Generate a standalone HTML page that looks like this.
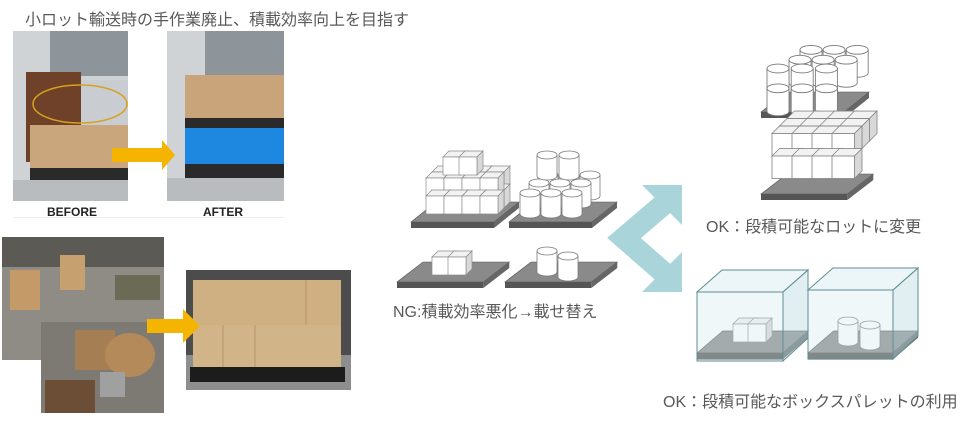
<!DOCTYPE html>
<html><head><meta charset="utf-8"><style>
html,body{margin:0;padding:0;background:#fff;}
body{width:974px;height:421px;position:relative;overflow:hidden;font-family:"Liberation Sans","Noto Sans CJK JP",sans-serif;}
.t{position:absolute;color:#595959;white-space:nowrap;}
</style></head><body>
<svg width="974" height="421" style="position:absolute;left:0;top:0">
<defs>
<g id="cube" stroke="#8a8a8a" stroke-width="0.7">
<polygon points="0,6 6,0 24,0 18,6" fill="#f2f2f2"/>
<polygon points="18,6 24,0 24,18 18,24" fill="#d8d8d8"/>
<rect x="0" y="6" width="18" height="18" fill="#fff"/>
</g>
<g id="cyl" stroke="#7a7a7a" stroke-width="0.8">
<path d="M0 5 V26 A10 4 0 0 0 20 26 V5" fill="#fff"/>
<ellipse cx="10" cy="5" rx="10" ry="4" fill="#fff"/>
</g>
<g id="pal">
<polygon points="0,20 25,0 108,0 83,20" fill="#8a8a8a" stroke="#555" stroke-width="0.6"/>
<rect x="0" y="20" width="83" height="6" fill="#555"/>
<polygon points="83,20 108,0 108,6 83,26" fill="#666"/>
</g>
</defs>

<!-- BEFORE photo -->
<rect x="13" y="31" width="115" height="170" fill="#cfd3d6"/>
<rect x="50" y="31" width="78" height="45" fill="#8d959b"/>
<rect x="26" y="72" width="55" height="90" fill="#6e4128"/>
<rect x="81" y="80" width="47" height="45" fill="#c9ccd0"/>
<rect x="30" y="125" width="98" height="45" fill="#c9a67c"/>
<rect x="30" y="168" width="98" height="12" fill="#2a2a2a"/>
<rect x="13" y="180" width="115" height="21" fill="#b9bcbf"/>
<ellipse cx="80" cy="104" rx="47" ry="19" fill="none" stroke="#d6a21e" stroke-width="1.5"/>
<!-- AFTER photo -->
<rect x="167" y="31" width="117" height="170" fill="#cfd3d6"/>
<rect x="205" y="31" width="79" height="45" fill="#8d959b"/>
<rect x="185" y="75" width="99" height="45" fill="#c9a47a"/>
<rect x="185" y="118" width="99" height="10" fill="#2a2a2a"/>
<rect x="185" y="128" width="99" height="36" fill="#1e88e0"/>
<rect x="185" y="164" width="99" height="14" fill="#2a2a2a"/>
<rect x="167" y="178" width="117" height="23" fill="#b9bcbf"/>
<polygon points="112,148 162,148 162,140 175,155 162,170 162,162 112,162" fill="#f5b400"/>
<rect x="13" y="217" width="271" height="1" fill="#eee"/>

<!-- warehouse photos -->
<rect x="2" y="237" width="162" height="123" fill="#8f8c86"/>
<rect x="2" y="237" width="162" height="30" fill="#5c5a55"/>
<rect x="10" y="270" width="30" height="40" fill="#c49a68"/>
<rect x="60" y="255" width="25" height="35" fill="#c6a06e"/>
<rect x="115" y="275" width="45" height="25" fill="#6b6a55"/>
<rect x="41" y="322" width="123" height="91" fill="#7d7a73"/>
<rect x="75" y="330" width="40" height="40" fill="#a57e54"/>
<ellipse cx="130" cy="355" rx="25" ry="22" fill="#b48a5a"/>
<rect x="100" y="372" width="25" height="25" fill="#a0a0a0"/>
<rect x="45" y="380" width="50" height="33" fill="#6b4e35"/>
<!-- pallet photo -->
<rect x="186" y="270" width="165" height="120" fill="#4c4c4c"/>
<rect x="186" y="355" width="165" height="35" fill="#8e8e8e"/>
<rect x="193" y="280" width="148" height="45" fill="#cfb083"/>
<rect x="193" y="325" width="148" height="42" fill="#d2b489"/>
<line x1="306" y1="280" x2="306" y2="325" stroke="#b69567"/>
<line x1="223" y1="325" x2="223" y2="367" stroke="#b69567"/>
<line x1="255" y1="325" x2="255" y2="367" stroke="#b69567"/>
<rect x="190" y="367" width="155" height="15" fill="#1c1c1c"/>
<polygon points="147,319 183,319 183,309 200,326 183,343 183,333 147,333" fill="#f5b400"/>

<!-- NG pallets -->
<use href="#pal" transform="translate(411,202)"/>
<use href="#cube" x="432" y="166"/><use href="#cube" x="450" y="166"/><use href="#cube" x="468" y="166"/><use href="#cube" x="486" y="166"/>
<use href="#cube" x="432" y="184"/><use href="#cube" x="450" y="184"/><use href="#cube" x="468" y="184"/><use href="#cube" x="486" y="184"/>
<use href="#cube" x="426" y="172"/><use href="#cube" x="444" y="172"/><use href="#cube" x="462" y="172"/><use href="#cube" x="480" y="172"/>
<use href="#cube" x="426" y="190"/><use href="#cube" x="444" y="190"/><use href="#cube" x="462" y="190"/><use href="#cube" x="480" y="190"/>
<use href="#cube" x="443" y="151"/><use href="#cube" x="459" y="151"/>
<use href="#pal" transform="translate(509,202)"/>
<use href="#cyl" x="538" y="170"/><use href="#cyl" x="559" y="170"/><use href="#cyl" x="580" y="170"/>
<use href="#cyl" x="529" y="178"/><use href="#cyl" x="550" y="178"/><use href="#cyl" x="571" y="178"/>
<use href="#cyl" x="520" y="188"/><use href="#cyl" x="541" y="188"/><use href="#cyl" x="562" y="188"/>
<use href="#cyl" x="537" y="150"/><use href="#cyl" x="559" y="150"/>
<use href="#pal" transform="translate(397,262) scale(1.04,1)"/>
<use href="#cube" x="432" y="251"/><use href="#cube" x="448" y="251"/>
<use href="#pal" transform="translate(505,262) scale(1.04,1)"/>
<use href="#cyl" x="537" y="246"/><use href="#cyl" x="558" y="251"/>

<!-- chevron -->
<polyline points="672,197 624,238 672,280" fill="none" stroke="#a9d4da" stroke-width="22" stroke-linejoin="miter"/>
<polygon points="682,185 682,225 642,185" fill="#a9d4da"/>
<polygon points="682,292 682,252 642,292" fill="#a9d4da"/>

<!-- OK cylinders -->
<use href="#pal" transform="translate(761,92)"/>
<g transform="translate(767,118) scale(1.1) translate(-767,-118)">
<use href="#cyl" x="797" y="51"/><use href="#cyl" x="818" y="51"/><use href="#cyl" x="839" y="51"/>
<use href="#cyl" x="787" y="60"/><use href="#cyl" x="808" y="60"/><use href="#cyl" x="829" y="60"/>
<use href="#cyl" x="767" y="68"/><use href="#cyl" x="789" y="68"/><use href="#cyl" x="811" y="68"/>
<use href="#cyl" x="767" y="86" /><use href="#cyl" x="789" y="86"/><use href="#cyl" x="811" y="86"/>
</g>
<!-- OK cubes -->
<use href="#pal" transform="translate(761,174) scale(1.04,1)"/>
<g transform="translate(772,196) scale(1.25) translate(-772,-196)">
<use href="#cube" x="784" y="128"/><use href="#cube" x="800" y="128"/><use href="#cube" x="816" y="128"/><use href="#cube" x="832" y="128"/>
<use href="#cube" x="778" y="134"/><use href="#cube" x="794" y="134"/><use href="#cube" x="810" y="134"/><use href="#cube" x="826" y="134"/>
<use href="#cube" x="772" y="140"/><use href="#cube" x="788" y="140"/><use href="#cube" x="804" y="140"/><use href="#cube" x="820" y="140"/>
<use href="#cube" x="772" y="158"/><use href="#cube" x="788" y="158"/><use href="#cube" x="804" y="158"/><use href="#cube" x="820" y="158"/>
</g>

<!-- box pallets -->
<g>
<use href="#pal" transform="translate(697,331) scale(1.03,1.1)"/>
<use href="#cube" x="733" y="318"/><use href="#cube" x="748" y="318"/>
<polygon points="697,292 722,270 808,270 783,292" fill="rgba(200,228,234,0.35)" stroke="#5f8e94"/>
<polygon points="783,292 808,270 808,338 783,361" fill="rgba(190,220,226,0.45)" stroke="#5f8e94"/>
<rect x="697" y="292" width="86" height="69" fill="rgba(210,232,236,0.35)" stroke="#5f8e94"/>
<use href="#pal" transform="translate(808,331) scale(1.02,1.1)"/>
<use href="#cyl" x="838" y="316"/><use href="#cyl" x="860" y="320"/>
<polygon points="808,290 833,268 918,268 893,290" fill="rgba(200,228,234,0.35)" stroke="#5f8e94"/>
<polygon points="893,290 918,268 918,336 893,359" fill="rgba(190,220,226,0.45)" stroke="#5f8e94"/>
<rect x="808" y="290" width="85" height="69" fill="rgba(210,232,236,0.35)" stroke="#5f8e94"/>
</g>
</svg>

<div class="t" style="left:25px;top:6px;font-size:16px;">小ロット輸送時の手作業廃止、積載効率向上を目指す</div>
<div class="t" style="left:47px;top:205px;font-size:12px;color:#222;font-weight:bold;">BEFORE</div>
<div class="t" style="left:203px;top:205px;font-size:12px;color:#222;font-weight:bold;">AFTER</div>
<div class="t" style="left:393px;top:298px;font-size:16px;">NG:積載効率悪化→載せ替え</div>
<div class="t" style="left:706px;top:213px;font-size:16px;">OK：段積可能なロットに変更</div>
<div class="t" style="left:663px;top:388px;font-size:16px;">OK：段積可能なボックスパレットの利用</div>
</body></html>
